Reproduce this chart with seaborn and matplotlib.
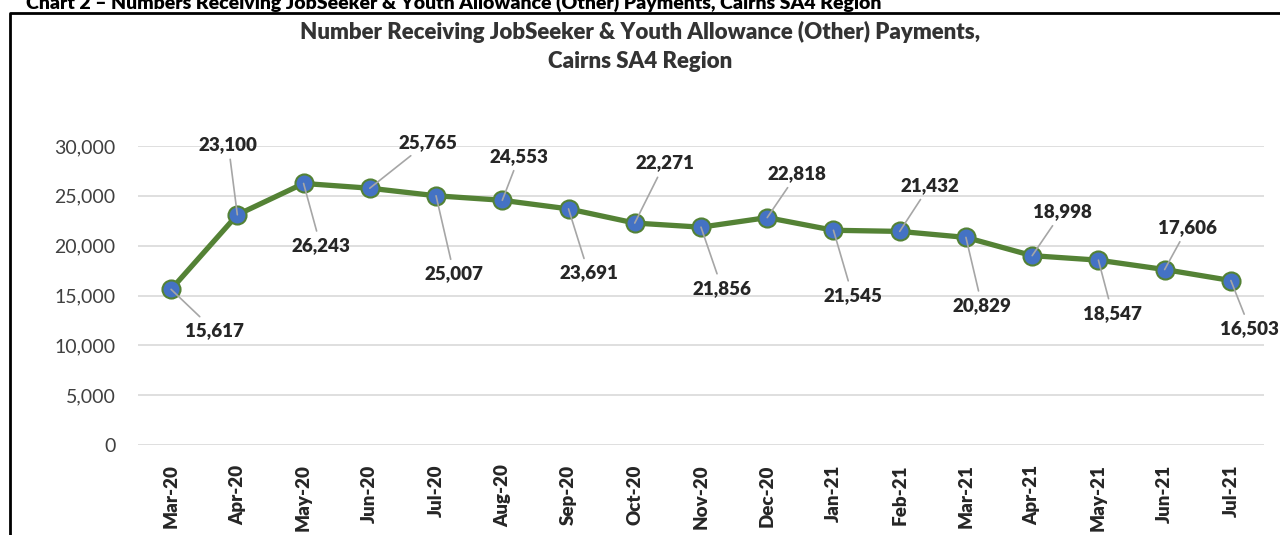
import matplotlib
matplotlib.use("Agg")
import matplotlib.pyplot as plt
from matplotlib.lines import Line2D
from matplotlib.ticker import FuncFormatter
import seaborn as sns
import pandas as pd

# chart data
months = ["Mar-20", "Apr-20", "May-20", "Jun-20", "Jul-20", "Aug-20", "Sep-20", "Oct-20",
          "Nov-20", "Dec-20", "Jan-21", "Feb-21", "Mar-21", "Apr-21", "May-21", "Jun-21", "Jul-21"]
recipients = [15617, 23100, 26243, 25765, 25007, 24553, 23691, 22271,
              21856, 22818, 21545, 21432, 20829, 18998, 18547, 17606, 16503]
y_ticks = [0, 5000, 10000, 15000, 20000, 25000, 30000]

# where each data label sits relative to its point (pixels, +y is up)
label_offsets = [(43, -41), (-9, 70), (17, -62), (58, 46), (18, -78), (17, 44), (20, -64),
                 (30, 60), (21, -61), (30, 44), (19, -65), (30, 46), (16, -68), (30, 44),
                 (14, -53), (23, 42), (19, -48)]

df = pd.DataFrame({"month": months, "recipients": recipients})
df["pos"] = range(len(df))

sns.set_theme(style="whitegrid")
plt.rcParams["font.family"] = ["Lato", "DejaVu Sans"]

fig = plt.figure(figsize=(12.8, 5.35), dpi=100)
ax = fig.add_axes([0.1078, 0.1682, 0.8797, 0.5589])

green = "#548235"
blue = "#4472C4"
sns.lineplot(data=df, x="pos", y="recipients", ax=ax, color=green, linewidth=3.8,
             marker="o", markersize=13, markerfacecolor=blue, markeredgecolor=green,
             markeredgewidth=1.5, zorder=3)

ax.set_xlim(-0.5, len(months) - 0.5)
ax.set_ylim(0, 30000)
ax.set_yticks(y_ticks)
ax.yaxis.set_major_formatter(FuncFormatter(lambda v, p: f"{int(v):,}"))
ax.set_xticks(df["pos"])
ax.set_xticklabels(months, rotation=90, fontweight="heavy", fontsize=13.5, color="#262626")
ax.tick_params(axis="y", labelsize=14, colors="#404040", pad=10)
ax.tick_params(axis="x", pad=8)
ax.grid(axis="x", visible=False)
ax.grid(axis="y", color="#D9D9D9", linewidth=1.2)
for s in ax.spines.values():
    s.set_visible(False)
ax.set_xlabel("")
ax.set_ylabel("")

for i, v in enumerate(recipients):
    dx, dy = label_offsets[i]
    ax.annotate(f"{v:,}", xy=(i, v), xytext=(dx, dy), textcoords="offset pixels",
                ha="center", va="center", fontsize=13.5, fontweight="heavy", color="#262626",
                arrowprops=dict(arrowstyle="-", color="#A6A6A6", lw=1.2, shrinkA=2, shrinkB=0),
                annotation_clip=False, zorder=4)

fig.text(0.5, 0.913, "Number Receiving JobSeeker & Youth Allowance (Other) Payments,\nCairns SA4 Region",
         ha="center", va="center", fontsize=16, fontweight="heavy", color="#333333", linespacing=1.45)

# cropped heading above the chart frame
fig.text(0.02, 0.995, "Chart 2 \u2013 Numbers Receiving JobSeeker & Youth Allowance (Other) Payments, Cairns SA4 Region",
         ha="left", va="center", fontsize=14, fontweight="heavy", color="#000000")

# chart frame (left and top edges only visible)
fig.add_artist(Line2D([10 / 1280, 10 / 1280, 1.0], [0.0, 1 - 13 / 535, 1 - 13 / 535],
                      transform=fig.transFigure, color="black", linewidth=2))

fig.savefig("out.png", dpi=100)
